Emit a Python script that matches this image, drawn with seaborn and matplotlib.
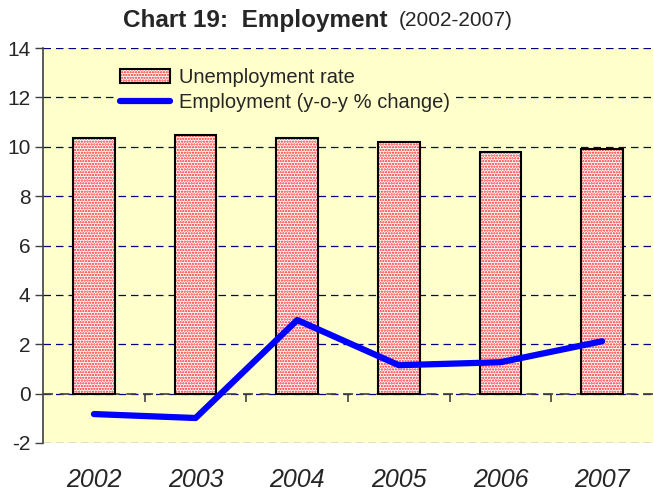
import seaborn as sns
import matplotlib.pyplot as plt
import pandas as pd
from matplotlib.patches import Patch
from matplotlib.lines import Line2D
from matplotlib.legend_handler import HandlerTuple

# data
years = ["2002", "2003", "2004", "2005", "2006", "2007"]
unemployment = [10.35, 10.47, 10.35, 10.2, 9.8, 9.9]
employment_change = [-0.83, -0.99, 2.98, 1.15, 1.27, 2.12]

df = pd.DataFrame({"year": years, "unemp": unemployment, "emp": employment_change})

sns.set_style("white")
plt.rcParams['font.family'] = ['Liberation Sans', 'DejaVu Sans']
plt.rcParams['axes.unicode_minus'] = False
plt.rcParams['hatch.linewidth'] = 1.1

fig = plt.figure(figsize = (6.53, 4.96), dpi = 100)
ax = fig.add_axes([0.066, 0.107, 0.934, 0.796])
ax.set_facecolor('#FFFFCC')

# grid first so bars sit on top
ax.set_ylim(-2, 14)
ax.set_yticks(range(-2, 15, 2))
ax.yaxis.grid(True, color = '#000080', linestyle = (0, (6, 4)), linewidth = 0.9)
ax.set_axisbelow(True)

# hatched red dots, then black outline
sns.barplot(data = df, x = "year", y = "unemp", color = 'white', edgecolor = '#ff2020',
            hatch = '......', linewidth = 0, width = 0.41, ax = ax, zorder = 2)
sns.barplot(data = df, x = "year", y = "unemp", fill = False, edgecolor = 'black',
            linewidth = 1.5, width = 0.41, ax = ax, zorder = 3)

sns.lineplot(data = df, x = "year", y = "emp", color = '#0000FF', linewidth = 4.5,
             ax = ax, zorder = 4, solid_capstyle = 'round', solid_joinstyle = 'round')

ax.set_xlim(-0.5, 5.5)
ax.axhline(0, color = '#404040', linestyle = (0, (6, 4)), linewidth = 1.2, zorder = 1.5)

# category boundary ticks on the zero line
sec = ax.secondary_xaxis(2 / 16)
sec.set_xticks([0.5, 1.5, 2.5, 3.5, 4.5])
sec.set_xticklabels([])
sec.tick_params(direction = 'out', length = 6, width = 1.1, color = '#303030')
sec.spines['bottom'].set_visible(False)

for s in ['top', 'right', 'bottom']:
    ax.spines[s].set_visible(False)
ax.spines['left'].set_color('#404040')
ax.spines['left'].set_linewidth(1.2)

ax.tick_params(axis = 'y', left = True, length = 6, width = 1, color = '#404040',
               labelsize = 15, pad = 3)
ax.tick_params(axis = 'x', length = 0, labelsize = 18, pad = 18)
for lbl in ax.get_xticklabels():
    lbl.set_fontstyle('italic')
ax.set_xlabel('')
ax.set_ylabel('')

# legend
bar_handle = (Patch(facecolor = 'white', edgecolor = '#ff2020', hatch = '......', linewidth = 0),
              Patch(facecolor = 'none', edgecolor = 'black', linewidth = 1.5))
line_handle = Line2D([], [], color = '#0000FF', linewidth = 4.5, solid_capstyle = 'round')
leg = ax.legend([bar_handle, line_handle], ['Unemployment rate', 'Employment (y-o-y % change)'],
                handler_map = {tuple: HandlerTuple(ndivide = 1, pad = 0)},
                loc = 'upper left', bbox_to_anchor = (0.1, 0.99), frameon = True,
                facecolor = '#FFFFCC', edgecolor = 'none', framealpha = 1, fancybox = False,
                fontsize = 14.5, handlelength = 2.45, handleheight = 0.65, handletextpad = 0.45,
                labelspacing = 0.3, borderpad = 0.3)

fig.text(0.593, 0.958, 'Chart 19:  Employment', ha = 'right', va = 'center',
         fontsize = 17.5, fontweight = 'bold')
fig.text(0.611, 0.958, '(2002-2007)', ha = 'left', va = 'center', fontsize = 15)

plt.savefig('out.png', dpi = 100)
